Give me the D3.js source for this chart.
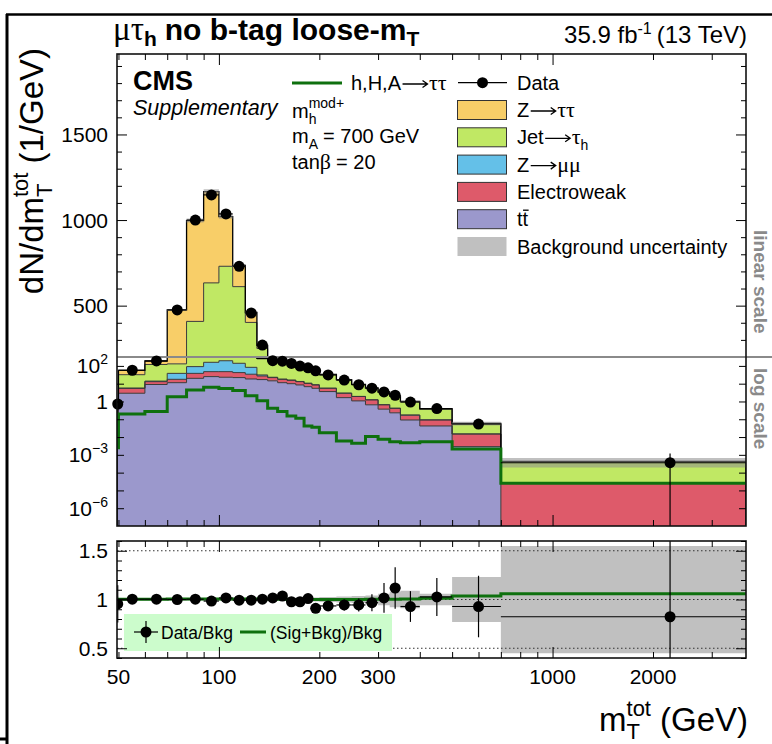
<!DOCTYPE html>
<html><head><meta charset="utf-8">
<script src="https://cdn.jsdelivr.net/npm/d3@7"></script>
<style>body{margin:0;background:#fff} svg{display:block} text{font-family:"Liberation Sans",Arial,Helvetica,sans-serif}</style>
</head><body><svg id="c" width="772" height="744"></svg>
<script>
// ---------------- data ----------------
const binEdges = [49.5,50,60,70,80,90,100,110,120,130,140,150,160,170,180,190,200,225,250,275,300,325,350,400,500,700,3800];
const ttbar       = [0.2,2.9,9,11.4,20,25,23,22,18.4,17,14.5,11.4,10,8.5,6.8,5.5,3.6,1.64,1.08,0.65,0.37,0.23,0.091,0.042,0.0029,0];
const electroweak = [0.12,2.5,4,6.2,18,22.5,24.5,20,15.6,10,7.5,6.2,5.5,4.5,3.6,3.0,1.9,1.26,0.82,0.58,0.28,0.18,0.079,0.049,0.0119,2.5e-5];
const zmumu       = [0.02,0.3,1,20.4,53,111.5,147.5,98,49,4,1,0.4,0.4,0.3,0.2,0.2,0.1,0.05,0.03,0.02,0.01,0.01,0.003,0.002,0.0002,0];
const jetFakes    = [0.36,26.3,106,92,317,474,535,471,319,219,163,154,120,83.2,63.9,47.3,26.2,13.25,6.97,4.35,2.62,1.51,0.787,0.282,0.039,3.9e-4];
const ztautau     = [0.06,24,69,345,589,533,290,124,58,18,6,6,5,3.5,2.5,2.0,1.2,0.6,0.3,0.2,0.12,0.07,0.04,0.015,0.004,1.5e-5];
const signal      = [0.0025,0.2,0.27,1.87,4.4,6.3,5.3,4.1,2.1,1.1,0.41,0.27,0.153,0.113,0.042,0.035,0.0176,0.006,0.0045,0.0106,0.0075,0.0055,0.0048,0.0055,0.0021,2.5e-5];
const dataVals    = [0.72,57,190,475,1000,1147,1036,730,457,270,195,184,138,97.7,78,53,31,15.9,8.7,5.6,3.45,2.24,0.93,0.40,0.054,3.6e-4];
const dataErrUp   = [0.2,0.02,0.02,0.02,0.02,0.02,0.025,0.025,0.025,0.025,0.025,0.025,0.03,0.03,0.03,0.05,0.05,0.06,0.07,0.09,0.15,0.19,0.17,0.19,0.34,2.3];
const dataErrDn   = [0.2,0.02,0.02,0.02,0.02,0.02,0.025,0.025,0.025,0.025,0.025,0.025,0.03,0.03,0.03,0.05,0.05,0.06,0.07,0.09,0.15,0.19,0.17,0.19,0.34,1.0];
const ratioVals   = [0.955,1.003,1.003,1.0,1.003,0.984,1.016,0.993,0.993,1.003,1.016,1.036,0.977,0.977,1.01,0.91,0.934,0.944,0.944,0.967,1.016,1.118,0.928,1.026,0.928,0.823];
const bkgUncRel   = [0.03,0.012,0.012,0.012,0.012,0.012,0.012,0.012,0.012,0.012,0.012,0.012,0.012,0.012,0.012,0.02,0.025,0.03,0.035,0.04,0.06,0.08,0.09,0.06,0.23,0.55];
const xTickLabels = [50,100,200,300,1000,2000];
const xMajorTicks = [100,1000];
const xMinorTicks = [50,60,70,80,90,200,300,400,500,600,700,800,900,2000,3000];
const linTickLabels = [500,1000,1500];
const linMinorTicks = [300,400,600,700,800,900,1100,1200,1300,1400,1600,1700,1800,1900];
const logTicks = [1e-6,1e-5,1e-4,1e-3,1e-2,1e-1,1,10,100];
const logTickLabels = [{v:100,b:'10',e:'2'},{v:1,b:'1',e:''},{v:1e-3,b:'10',e:'\u22123'},{v:1e-6,b:'10',e:'\u22126'}];
const ratioTickLabels = [0.5,1,1.5];
const ratioMinorTicks = [0.4,0.6,0.7,0.8,0.9,1.1,1.2,1.3,1.4,1.6];
const colors = {tt:'#9b98cc', ew:'#de5a6a', zmm:'#64c0e8', jet:'#c0e864', ztt:'#f8ce68'};
const sigColor = '#0e700e';

// ---------------- layout/scales ----------------
const L=117, R=746, T0=54, SPLIT=357, B0=526, RT=541, RB=658;
const x = d3.scaleLog().domain([49.5,3800]).range([L,R]);
const yLin = d3.scaleLinear().domain([200,1970]).range([SPLIT,T0]);
const yLog = d3.scaleLog().domain([1e-7,Math.pow(10,2.5)]).range([B0,SPLIT]);
const safeLog = v => yLog(Math.min(Math.max(v,1e-12),1e12));
const yMain = v => v >= 200 ? yLin(v) : safeLog(v);
const yR = d3.scaleLinear().domain([0.4,1.6]).range([RB,RT]);

const svg = d3.select('#c');
const defs = svg.append('defs');
function clip(id,x0,y0,w,h){defs.append('clipPath').attr('id',id).append('rect').attr('x',x0).attr('y',y0).attr('width',w).attr('height',h);}
clip('clipLin',L,T0,R-L,SPLIT-T0);
clip('clipLog',L,SPLIT,R-L,B0-SPLIT);
clip('clipRatio',L,RT,R-L,RB-RT);

const keys = ['tt','ew','zmm','jet','ztt'];
const rows = ttbar.map((_,i)=>({tt:ttbar[i],ew:electroweak[i],zmm:zmumu[i],jet:jetFakes[i],ztt:ztautau[i]}));
const series = d3.stack().keys(keys)(rows);
const total = rows.map((_,i)=>series[4][i][1]);
const nb = binEdges.length-1;
function stepPts(lo,hi){const p=[];for(let i=0;i<nb;i++){p.push({x:binEdges[i],lo:lo(i),hi:hi(i)});p.push({x:binEdges[i+1],lo:lo(i),hi:hi(i)});}return p;}

// rich text helper
function rich(parent,x0,y0,parts,o={}){
  const size=o.size||20, weight=o.weight||'normal', style=o.style||'normal', fill=o.fill||'#000';
  const outer=parent.append('g').attr('transform',`translate(${x0},${y0}) rotate(${o.rotate||0})`);
  const g=outer.append('g'); let cx=0; const nodes=[];
  for(const p of parts){
    if(p.gap){cx+=p.gap;continue;}
    if(p.arrow){
      const w=p.arrow, ay=-size*0.3, a0=cx+1.5, a1=cx+w-1.5;
      g.append('path').attr('d',`M${a0},${ay}H${a1}M${a1-5},${ay-3.5}L${a1},${ay}L${a1-5},${ay+3.5}`)
        .attr('fill','none').attr('stroke',fill).attr('stroke-width',1.3);
      cx+=w; continue;
    }
    const items=p.stack||[p]; let w=0;
    for(const it of items){
      const t=g.append('text').attr('x',cx).attr('y',it.dy||0).attr('font-size',it.size||size)
        .attr('font-weight',it.weight||weight).attr('font-style',it.style||style).attr('fill',fill).text(it.t);
      if(it.family) t.style('font-family',it.family);
      nodes.push({node:t.node(),x:cx});
      w=Math.max(w,t.node().getComputedTextLength());
    }
    cx+=w+(p.after||0);
  }
  const off=o.anchor==='end'?-cx:o.anchor==='middle'?-cx/2:0;
  g.attr('transform',`translate(${off},0)`);
  return {w:cx,nodes};
}
const ARROW = {arrow:28};
const SER = 'Liberation Serif';

// ---------------- main pads ----------------
function drawPad(clipId,yf){
  const g=svg.append('g').attr('clip-path',`url(#${clipId})`);
  series.forEach((s,k)=>{
    const pts=stepPts(i=>s[i][0],i=>s[i][1]);
    g.append('path').attr('d',d3.area().x(d=>x(d.x)).y0(d=>yf(d.lo)).y1(d=>yf(d.hi))(pts)).attr('fill',colors[keys[k]]);
  });
  series.forEach((s,k)=>{
    const pts=[{x:binEdges[0],hi:0},...stepPts(()=>0,i=>s[i][1]),{x:binEdges[nb],hi:0}];
    g.append('path').attr('d',d3.line().x(d=>x(d.x)).y(d=>yf(d.hi))(pts)).attr('fill','none')
      .attr('stroke',k===4?'#000':'#3a3a3a').attr('stroke-width',k===4?1.3:1);
  });
  const band=stepPts(i=>total[i]*(1-bkgUncRel[i]),i=>total[i]*(1+bkgUncRel[i]));
  g.append('path').attr('d',d3.area().x(d=>x(d.x)).y0(d=>yf(d.lo)).y1(d=>yf(d.hi))(band)).attr('fill','#8c8c8c').attr('fill-opacity',0.55);
  const sp=stepPts(()=>0,i=>signal[i]);
  g.append('path').attr('d',d3.line().x(d=>x(d.x)).y(d=>yf(d.hi))(sp)).attr('fill','none').attr('stroke',sigColor).attr('stroke-width',3);
}
drawPad('clipLin',v=>yLin(v));
drawPad('clipLog',safeLog);

// split line
svg.append('line').attr('x1',L).attr('x2',772).attr('y1',SPLIT).attr('y2',SPLIT).attr('stroke','#8a8a8a').attr('stroke-width',2);

// data points main
const gd=svg.append('g');
dataVals.forEach((d,i)=>{
  const xc=x((binEdges[i]+binEdges[i+1])/2), yc=yMain(d);
  const yHi=Math.max(T0,yMain(d*(1+dataErrUp[i])));
  const lo=d*(1-dataErrDn[i]);
  const yLo=Math.min(B0,lo<=0?B0:yMain(lo));
  gd.append('line').attr('x1',x(binEdges[i])).attr('x2',x(binEdges[i+1])).attr('y1',yc).attr('y2',yc).attr('stroke','#000').attr('stroke-width',1.2);
  gd.append('line').attr('x1',xc).attr('x2',xc).attr('y1',yHi).attr('y2',yLo).attr('stroke','#000').attr('stroke-width',1.2);
  gd.append('circle').attr('cx',xc).attr('cy',yc).attr('r',5.5).attr('fill','#000');
});

// ---------------- ratio panel ----------------
const gr=svg.append('g').attr('clip-path','url(#clipRatio)');
const rb=stepPts(i=>1-bkgUncRel[i],i=>1+bkgUncRel[i]);
gr.append('path').attr('d',d3.area().x(d=>x(d.x)).y0(d=>yR(d.lo)).y1(d=>yR(d.hi))(rb)).attr('fill','#8c8c8c').attr('fill-opacity',0.55);
[0.5,1,1.5].forEach(v=>gr.append('line').attr('x1',L).attr('x2',R).attr('y1',yR(v)).attr('y2',yR(v)).attr('stroke','#333').attr('stroke-width',1).attr('stroke-dasharray','1.5,2.5'));
const rl=stepPts(()=>0,i=>1+signal[i]/total[i]);
gr.append('path').attr('d',d3.line().x(d=>x(d.x)).y(d=>yR(d.hi))(rl)).attr('fill','none').attr('stroke',sigColor).attr('stroke-width',3);
ratioVals.forEach((r,i)=>{
  const xc=x((binEdges[i]+binEdges[i+1])/2), yc=yR(r);
  gr.append('line').attr('x1',x(binEdges[i])).attr('x2',x(binEdges[i+1])).attr('y1',yc).attr('y2',yc).attr('stroke','#000').attr('stroke-width',1.2);
  gr.append('line').attr('x1',xc).attr('x2',xc).attr('y1',yR(r*(1+dataErrUp[i]))).attr('y2',yR(Math.max(0,r*(1-dataErrDn[i])))).attr('stroke','#000').attr('stroke-width',1.2);
  gr.append('circle').attr('cx',xc).attr('cy',yc).attr('r',5.5).attr('fill','#000');
});
// ratio legend
svg.append('rect').attr('x',124).attr('y',614).attr('width',268).attr('height',37).attr('fill','#ccfccc');
svg.append('line').attr('x1',134).attr('x2',158).attr('y1',632).attr('y2',632).attr('stroke','#000').attr('stroke-width',1.2);
svg.append('line').attr('x1',146).attr('x2',146).attr('y1',621).attr('y2',643).attr('stroke','#000').attr('stroke-width',1.2);
svg.append('circle').attr('cx',146).attr('cy',632).attr('r',5.5).attr('fill','#000');
rich(svg,161,639,[{t:'Data/Bkg'}],{size:17.5});
svg.append('line').attr('x1',240).attr('x2',266).attr('y1',632).attr('y2',632).attr('stroke',sigColor).attr('stroke-width',3);
rich(svg,270,639,[{t:'(Sig+Bkg)/Bkg'}],{size:17.5});

// ---------------- frames & ticks ----------------
svg.append('rect').attr('x',L).attr('y',T0).attr('width',R-L).attr('height',B0-T0).attr('fill','none').attr('stroke','#111').attr('stroke-width',1.6);
svg.append('rect').attr('x',L).attr('y',RT).attr('width',R-L).attr('height',RB-RT).attr('fill','none').attr('stroke','#111').attr('stroke-width',1.6);
function tk(gen,tx,ty){svg.append('g').attr('transform',`translate(${tx},${ty})`).call(gen).call(g=>{g.select('.domain').remove();g.selectAll('text').remove();g.selectAll('line').attr('stroke','#000');});}
[[B0,1],[T0,-1],[RB,1],[RT,-1]].forEach(([yy,s])=>{
  const mk=(vals,len)=> (s>0?d3.axisBottom(x):d3.axisTop(x)).tickValues(vals).tickSize(-len).tickFormat('');
  tk(mk(xMajorTicks,11),0,yy); tk(mk(xMinorTicks,6),0,yy);
});
[[L,'l'],[R,'r']].forEach(([xx,side])=>{
  const ax=s=>side==='l'?d3.axisLeft(s):d3.axisRight(s);
  tk(ax(yLin).tickValues(linTickLabels).tickSize(-10).tickFormat(''),xx,0);
  tk(ax(yLin).tickValues(linMinorTicks).tickSize(-5).tickFormat(''),xx,0);
  tk(ax(yLog).tickValues(logTicks).tickSize(-7).tickFormat(''),xx,0);
  tk(ax(yR).tickValues(ratioTickLabels).tickSize(-10).tickFormat(''),xx,0);
  tk(ax(yR).tickValues(ratioMinorTicks).tickSize(-5).tickFormat(''),xx,0);
});

// tick labels
const TS=21;
linTickLabels.forEach(v=>rich(svg,108,yLin(v)+7.5,[{t:String(v)}],{anchor:'end',size:TS}));
logTickLabels.forEach(l=>{
  const parts=[{t:l.b}]; if(l.e) parts.push({t:l.e,dy:-9,size:14});
  rich(svg,108,yLog(l.v)+7.5,parts,{anchor:'end',size:TS});
});
ratioTickLabels.forEach(v=>rich(svg,108,yR(v)+7.5,[{t:String(v)}],{anchor:'end',size:TS}));
xTickLabels.forEach(v=>rich(svg,x(v),684,[{t:String(v)}],{anchor:'middle',size:TS}));

// axis titles
rich(svg,43,48,[{t:'dN/dm'},{stack:[{t:'tot',dy:-15,size:22},{t:'T',dy:9,size:22}]},{gap:9},{t:'(1/GeV)'}],{anchor:'end',rotate:-90,size:33});
rich(svg,748,731,[{t:'m'},{stack:[{t:'tot',dy:-15,size:22},{t:'T',dy:8,size:22}]},{gap:9},{t:'(GeV)'}],{anchor:'end',size:33});

// titles
rich(svg,113,40,[{t:'\u03bc\u03c4',family:SER,weight:'normal',size:33},{t:'h',dy:6,size:21},{gap:8},{t:'no b-tag loose-m'},{t:'T',dy:6,size:21}],{size:30,weight:'bold'});
rich(svg,747,43,[{t:'35.9 fb'},{t:'-1',dy:-9,size:16},{gap:5},{t:'(13 TeV)'}],{anchor:'end',size:24});

// CMS labels
rich(svg,133,90,[{t:'CMS'}],{size:27,weight:'bold'});
rich(svg,133,115,[{t:'Supplementary'}],{size:21.5,style:'italic'});

// signal legend
const LS=20;
svg.append('line').attr('x1',292).attr('x2',342).attr('y1',83).attr('y2',83).attr('stroke',sigColor).attr('stroke-width',3);
rich(svg,351,90,[{t:'h,H,A'},ARROW,{t:'\u03c4\u03c4',family:SER,size:22}],{size:LS});
rich(svg,292,118,[{t:'m'},{stack:[{t:'mod+',dy:-10,size:14},{t:'h',dy:6,size:14}]}],{size:LS});
rich(svg,292,143,[{t:'m'},{t:'A',dy:6,size:14},{gap:5},{t:'= 700 GeV'}],{size:LS});
rich(svg,292,169,[{t:'tan'},{t:'\u03b2',family:SER,size:22},{gap:5},{t:'= 20'}],{size:LS});

// process legend
const rowsY=[82.7,110,137.3,164.6,191.9,219.2,246.5];
svg.append('line').attr('x1',458).attr('x2',507).attr('y1',rowsY[0]).attr('y2',rowsY[0]).attr('stroke','#000').attr('stroke-width',1.2);
svg.append('circle').attr('cx',482.5).attr('cy',rowsY[0]).attr('r',5.5).attr('fill','#000');
rich(svg,517,rowsY[0]+7,[{t:'Data'}],{size:LS});
const legKeys=['ztt','jet','zmm','ew','tt'];
const legParts=[
  [{t:'Z'},ARROW,{t:'\u03c4\u03c4',family:SER,size:22}],
  [{t:'Jet'},ARROW,{t:'\u03c4',family:SER,size:22},{t:'h',dy:6,size:14}],
  [{t:'Z'},ARROW,{t:'\u03bc\u03bc',family:SER,size:22}],
  [{t:'Electroweak'}],
  [{t:'tt'}]
];
legKeys.forEach((k,j)=>{
  const cy=rowsY[j+1];
  svg.append('rect').attr('x',457.5).attr('y',cy-9.5).attr('width',49).attr('height',19).attr('fill',colors[k]).attr('stroke','#333').attr('stroke-width',1);
  const res=rich(svg,517,cy+7,legParts[j],{size:LS});
  if(k==='tt'){
    const n=res.nodes[0].node;
    const s=n.getStartPositionOfChar(1), e=n.getEndPositionOfChar(1);
    svg.append('line').attr('x1',517+s.x+0.5).attr('x2',517+e.x+0.5).attr('y1',cy-9).attr('y2',cy-9).attr('stroke','#000').attr('stroke-width',1.3);
  }
});
svg.append('rect').attr('x',457.5).attr('y',rowsY[6]-9.5).attr('width',49).attr('height',19).attr('fill','#8c8c8c').attr('fill-opacity',0.55);
rich(svg,517,rowsY[6]+7,[{t:'Background uncertainty'}],{size:LS});

// linear / log scale labels
rich(svg,754,230,[{t:'linear scale'}],{rotate:90,size:19,weight:'bold',fill:'#8a8a8a'});
rich(svg,754,368,[{t:'log scale'}],{rotate:90,size:19,weight:'bold',fill:'#8a8a8a'});

// outer border pieces
svg.append('line').attr('x1',6).attr('x2',772).attr('y1',14.5).attr('y2',14.5).attr('stroke','#000').attr('stroke-width',2.5);
svg.append('line').attr('x1',7).attr('x2',7).attr('y1',14).attr('y2',744).attr('stroke','#000').attr('stroke-width',3);
svg.append('line').attr('x1',0).attr('x2',8).attr('y1',739).attr('y2',739).attr('stroke','#000').attr('stroke-width',3);
</script></body></html>
